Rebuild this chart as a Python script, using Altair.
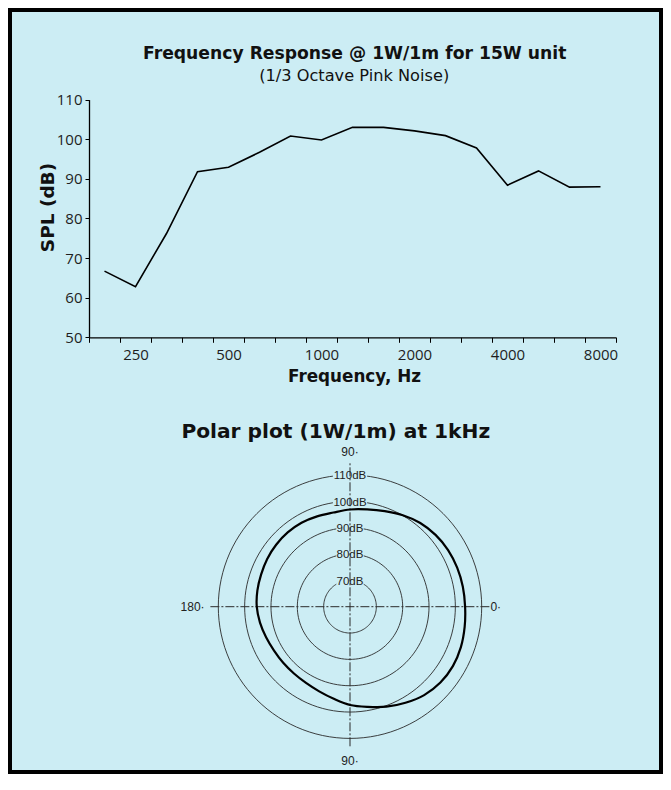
import json
import altair as alt
import numpy as np
import pandas as pd

BG = "#CCEDF4"
W, H = 655, 766

# ---------------- Frequency response data ----------------
freqs = ["200", "250", "315", "400", "500", "630", "800", "1000", "1250",
         "1600", "2000", "2500", "3150", "4000", "5000", "6300", "8000"]
spl = [66.7, 62.8, 76.2, 91.8, 92.9, 96.7, 100.8, 99.8, 103.0,
       103.0, 102.1, 100.9, 97.8, 88.4, 92.0, 87.9, 88.0]
freq_labels = ["250", "500", "1000", "2000", "4000", "8000"]
spl_ticks = [50, 60, 70, 80, 90, 100, 110]

# ---------------- Polar data (1 kHz) ----------------
polar_angle = [0, 10, 20, 30, 40, 50, 60, 70, 80, 90, 100, 110, 120, 130, 140,
               150, 160, 170, 180, 190, 200, 210, 220, 230, 240, 250, 260, 270,
               280, 290, 300, 310, 320, 330, 340, 350]
polar_db = [103.7, 103.5, 103.3, 103.0, 102.4, 101.5, 100.1, 98.6, 97.5, 96.9,
            96.3, 96.5, 96.8, 96.8, 96.6, 96.3, 95.9, 95.7, 95.4, 94.7, 93.9,
            93.3, 93.1, 93.1, 93.4, 94.2, 95.5, 97.3, 98.6, 100.4, 102.1, 103.8,
            104.8, 105.1, 104.8, 104.2]
ring_db = [70, 80, 90, 100, 110]
ring_labels = ["70dB", "80dB", "90dB", "100dB", "110dB"]
angle_label_text = ["0·", "90·", "180·", "90·"]
angle_label_deg = [0, 90, 180, 270]
polar_ref_db = 60  # centre of the polar plot

df_fr = pd.DataFrame({"freq": freqs, "spl": spl})
df_polar = pd.DataFrame({"angle": polar_angle, "db": polar_db})
ring_steps = np.arange(0, 361, 3)
df_rings = pd.DataFrame([{"ring": r, "angle": float(a)} for r in ring_db for a in ring_steps])
df_ring_lab = pd.DataFrame({"db": ring_db, "label": ring_labels})
df_ang_lab = pd.DataFrame({"label": angle_label_text, "deg": angle_label_deg})

BOLD_FONT = "DejaVu Sans"
TICK_FONT = "Open Sans"

# ---------------- Top chart: frequency response ----------------
label_expr = "indexof(%s, datum.value) >= 0 ? datum.value : ''" % json.dumps(freq_labels)
x_axis_y = 329.3
y_axis_x = 81

line = alt.Chart(df_fr).mark_line(color="black", strokeWidth=1.6).encode(
    x=alt.X("freq:O", sort=freqs,
            scale=alt.Scale(type="band", domain=freqs, range=[81, 608],
                            paddingInner=0, paddingOuter=0),
            axis=alt.Axis(orient="bottom", offset=x_axis_y - H, tickBand="extent",
                          labelExpr=label_expr, labelAngle=0,
                          labelFont=TICK_FONT, labelFontSize=15, labelColor="#1e1e1e",
                          labelPadding=5, tickSize=5, tickColor="black", tickWidth=1,
                          domainColor="black", domainWidth=1.3,
                          title="Frequency, Hz", titleFont=BOLD_FONT,
                          titleFontSize=16.8, titleFontWeight="bold", titleColor="#111",
                          titleX=346, titleY=44.4, titleAlign="center",
                          titleBaseline="alphabetic")),
    y=alt.Y("spl:Q",
            scale=alt.Scale(domain=[50, 110], range=[329.3, 91.6], nice=False, zero=False),
            axis=alt.Axis(orient="left", offset=-y_axis_x, values=spl_ticks, grid=False,
                          labelFont=TICK_FONT, labelFontSize=15, labelColor="#1e1e1e",
                          labelPadding=3, tickSize=4, tickColor="black", tickWidth=1,
                          domainColor="black", domainWidth=1.3,
                          title="SPL (dB)", titleFont=BOLD_FONT, titleFontSize=18.5,
                          titleFontWeight="bold", titleColor="#111", titleAngle=270,
                          titleX=-36, titleY=199, titleAlign="center",
                          titleBaseline="alphabetic")),
)

# ---------------- Bottom chart: polar plot ----------------
k = 2.634          # px per dB
cx, cy = 342, 598.7
span = 60
px_scale = alt.Scale(domain=[-span, span], range=[cx - span * k, cx + span * k], nice=False, zero=False)
py_scale = alt.Scale(domain=[-span, span], range=[cy + span * k, cy - span * k], nice=False, zero=False)


def pxy(rho_expr, ang_expr):
    return {
        "px": f"({rho_expr}) * cos(({ang_expr}) * PI / 180)",
        "py": f"({rho_expr}) * sin(({ang_expr}) * PI / 180)",
    }


rings = alt.Chart(df_rings).transform_calculate(
    **pxy(f"datum.ring - {polar_ref_db}", "datum.angle")
).mark_line(color="#2a2a2a", strokeWidth=0.9).encode(
    x=alt.X("px:Q", scale=px_scale, axis=None),
    y=alt.Y("py:Q", scale=py_scale, axis=None),
    detail="ring:N",
    order=alt.Order("angle:Q"),
)

label_bg = alt.Chart(df_ring_lab).transform_calculate(
    hw="length(datum.label) * 1.3",
    rho=f"datum.db - {polar_ref_db}",
).transform_calculate(
    x1="-datum.hw", x2="datum.hw", y1="datum.rho - 2.0", y2="datum.rho + 1.3",
).mark_rect(color=BG).encode(
    x=alt.X("x1:Q", scale=px_scale, axis=None), x2="x2:Q",
    y=alt.Y("y1:Q", scale=py_scale, axis=None), y2="y2:Q",
)

cross = alt.Chart(pd.DataFrame({"a": [0, 90]})).transform_calculate(
    x1="datum.a == 0 ? -53 : 0", x2="datum.a == 0 ? 53 : 0",
    y1="datum.a == 0 ? 0 : -53", y2="datum.a == 0 ? 0 : 54.5",
).mark_rule(color="#2a2a2a", strokeWidth=1, strokeDash=[9, 2, 2, 2]).encode(
    x=alt.X("x1:Q", scale=px_scale, axis=None), x2="x2:Q",
    y=alt.Y("y1:Q", scale=py_scale, axis=None), y2="y2:Q",
)

ring_text = alt.Chart(df_ring_lab).transform_calculate(
    px="0", py=f"datum.db - {polar_ref_db} - 0.5"
).mark_text(font="Liberation Sans", fontSize=11.5, color="#222", align="center",
            baseline="middle").encode(
    x=alt.X("px:Q", scale=px_scale, axis=None),
    y=alt.Y("py:Q", scale=py_scale, axis=None),
    text="label:N",
)


def angle_labels(deg_filter, rho, align):
    return alt.Chart(df_ang_lab).transform_filter(deg_filter).transform_calculate(
        **pxy(str(rho), "datum.deg")
    ).mark_text(font="Liberation Sans", fontSize=12, color="#222", align=align,
                baseline="middle").encode(
        x=alt.X("px:Q", scale=px_scale, axis=None),
        y=alt.Y("py:Q", scale=py_scale, axis=None),
        text="label:N",
    )


lab_right = angle_labels("datum.deg == 0", 53.3, "left")
lab_left = angle_labels("datum.deg == 180", 55.2, "right")
lab_vert = angle_labels("datum.deg == 90 || datum.deg == 270", 58.6, "center")

curve = alt.Chart(df_polar).transform_calculate(
    **pxy(f"datum.db - {polar_ref_db}", "datum.angle")
).mark_line(color="black", strokeWidth=2.2, interpolate="cardinal-closed").encode(
    x=alt.X("px:Q", scale=px_scale, axis=None),
    y=alt.Y("py:Q", scale=py_scale, axis=None),
    order=alt.Order("angle:Q"),
)


# ---------------- Titles ----------------
def title_text(txt, x, y, size, weight):
    return alt.Chart(alt.Data(values=[{}])).mark_text(
        text=txt, font=BOLD_FONT, fontSize=size, fontWeight=weight,
        align="center", baseline="alphabetic", color="#111"
    ).encode(x=alt.value(x), y=alt.value(y))


t1 = title_text("Frequency Response @ 1W/1m for 15W unit", 346.7, 51.3, 17.2, "bold")
t2 = title_text("(1/3 Octave Pink Noise)", 346.2, 73.3, 16.2, "normal")
t3 = title_text("Polar plot (1W/1m) at 1kHz", 327.8, 430.3, 20.2, "bold")

chart = alt.layer(
    line, rings, label_bg, cross, ring_text, lab_right, lab_left, lab_vert, curve,
    t1, t2, t3,
).resolve_scale(x="independent", y="independent").properties(
    width=W, height=H, autosize="none", padding=0, background=BG,
).configure_view(fill=BG, stroke="black", strokeWidth=8)

chart.save("out.html", embed_options={"renderer": "svg", "actions": False})
